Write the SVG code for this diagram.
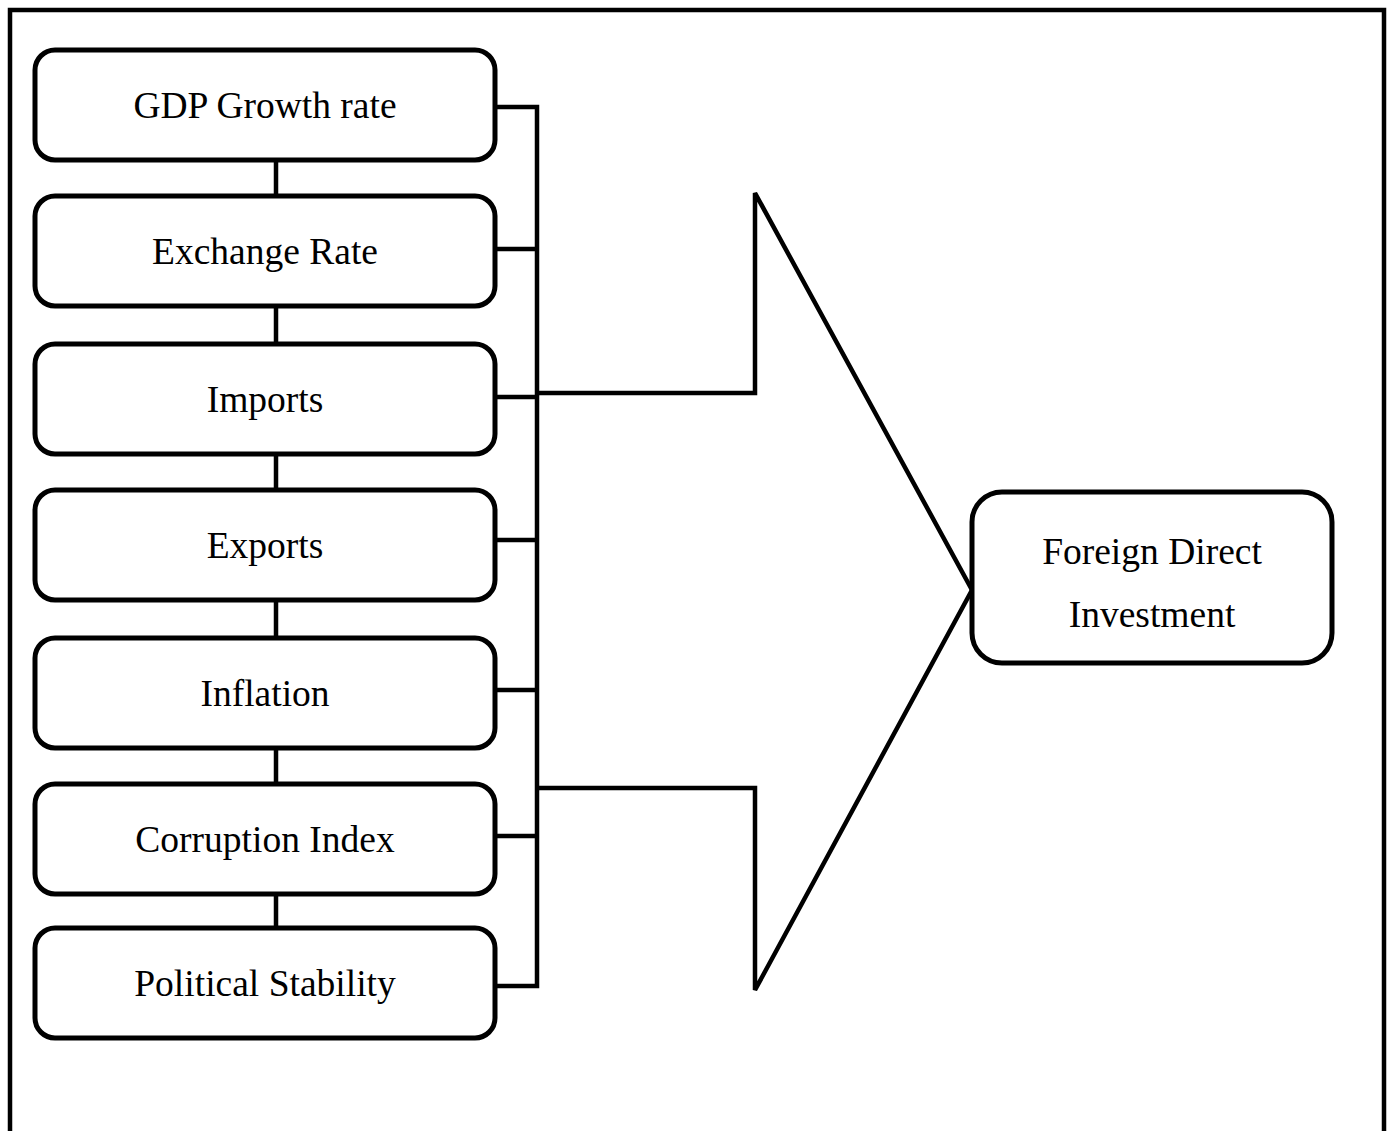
<svg xmlns="http://www.w3.org/2000/svg" width="1392" height="1131" viewBox="0 0 1392 1131">
<style>
.box{fill:#fff;stroke:#000;stroke-width:5}
.ln{fill:none;stroke:#000;stroke-width:4.5}
text{font-family:"Liberation Serif","Times New Roman",serif;font-size:37.5px;fill:#000;text-anchor:middle}
</style>
<rect width="1392" height="1131" fill="#fff"/>
<path class="ln" d="M10,1140 V10 H1384 V1140"/>
<g id="connectors">
<path class="ln" d="M276,160 V196 M276,306 V344 M276,454 V490 M276,600 V638 M276,748 V784 M276,894 V928"/>
<path class="ln" d="M495,107 H537 V986 H495 M495,249 H537 M495,397 H537 M495,540 H537 M495,690 H537 M495,836 H537"/>
<path class="ln" d="M537,393 H755 V193 L972,590 L755,990 V788 H537" stroke-linejoin="miter"/>
</g>
<g id="n-gdp"><rect class="box" x="35" y="50" width="460" height="110" rx="20"/><text x="265" y="118">GDP Growth rate</text></g>
<g id="n-exchange"><rect class="box" x="35" y="196" width="460" height="110" rx="20"/><text x="265" y="264">Exchange Rate</text></g>
<g id="n-imports"><rect class="box" x="35" y="344" width="460" height="110" rx="20"/><text x="265" y="412">Imports</text></g>
<g id="n-exports"><rect class="box" x="35" y="490" width="460" height="110" rx="20"/><text x="265" y="558">Exports</text></g>
<g id="n-inflation"><rect class="box" x="35" y="638" width="460" height="110" rx="20"/><text x="265" y="706">Inflation</text></g>
<g id="n-corruption"><rect class="box" x="35" y="784" width="460" height="110" rx="20"/><text x="265" y="852">Corruption Index</text></g>
<g id="n-political"><rect class="box" x="35" y="928" width="460" height="110" rx="20"/><text x="265" y="996">Political Stability</text></g>
<g id="n-fdi"><rect class="box" x="972" y="492" width="360" height="171" rx="30"/><text x="1152" y="564">Foreign Direct</text><text x="1152" y="627">Investment</text></g>
</svg>
